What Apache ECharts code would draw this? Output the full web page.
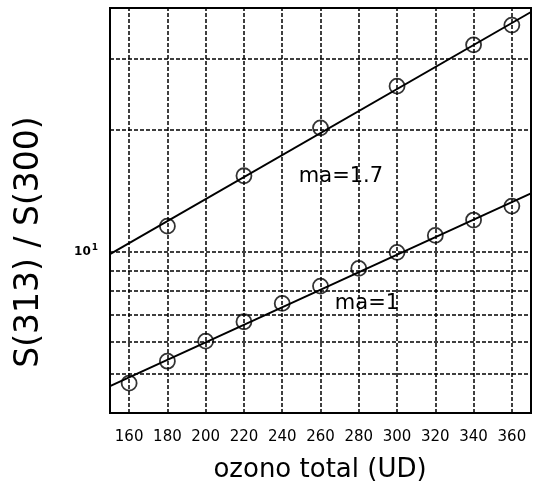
<!DOCTYPE html>
<html>
<head>
<meta charset="utf-8">
<script src="https://cdn.jsdelivr.net/npm/echarts@6/dist/echarts.min.js"></script>
<style>
html,body{margin:0;padding:0;background:#fff;}
#c{width:533px;height:495px;}
</style>
</head>
<body>
<div id="c"></div>
<script>
// ---- data ----
var xMa1 = [160, 180, 200, 220, 240, 260, 280, 300, 320, 340, 360];
var yMa1 = [4.74, 5.37, 6.02, 6.72, 7.46, 8.23, 9.10, 9.97, 10.98, 11.98, 12.97];
var xMa17 = [180, 220, 260, 300, 340, 360];
var yMa17 = [11.57, 15.41, 20.24, 25.65, 32.44, 36.29];
// straight fitted lines (end points)
var fitMa1X = [150, 370];
var fitMa1Y = [4.66, 13.94];
var fitMa17X = [150, 370];
var fitMa17Y = [9.87, 39.1];
// axes
var xTickLabels = [160, 180, 200, 220, 240, 260, 280, 300, 320, 340, 360];
var yGridValues = [5, 6, 7, 8, 9, 10, 20, 30];
var yLabelValue = 10;
var xName = 'ozono total (UD)';
var yName = 'S(313) / S(300)';
var label1 = 'ma=1';
var label17 = 'ma=1.7';

function zip(a, b) { return a.map(function (v, i) { return [v, b[i]]; }); }

var FONT = 'DejaVu Sans';
var gridStyle = { color: '#000', width: 1.5, type: [4, 2] };

var markLines = [];
xTickLabels.forEach(function (v) {
  markLines.push({ xAxis: v, lineStyle: gridStyle, label: { show: false } });
});
yGridValues.forEach(function (v) {
  var item = { yAxis: v, lineStyle: gridStyle, label: { show: false } };
  if (v === yLabelValue) {
    item.label = {
      show: true, position: 'start', distance: 12,
      formatter: '{b|10}{s|1}',
      rich: {
        b: { fontFamily: FONT, fontSize: 12, color: '#000', fontWeight: 'bold' },
        s: { fontFamily: FONT, fontSize: 9, color: '#000', verticalAlign: 'top', padding: [0, 0, 9, 1], fontWeight: 'bold' }
      }
    };
  }
  markLines.push(item);
});

var chart = echarts.init(document.getElementById('c'), null, { renderer: 'canvas' });
chart.setOption({
  backgroundColor: '#fff',
  animation: false,
  grid: { left: 110, right: 2, top: 8, bottom: 82, show: true, borderColor: '#000', borderWidth: 2, backgroundColor: 'transparent' },
  xAxis: {
    type: 'value', min: 150, max: 370,
    axisLine: { show: false },
    axisTick: { show: false },
    splitLine: { show: false },
    axisLabel: {
      customValues: xTickLabels,
      margin: 17, color: '#000', fontFamily: FONT, fontSize: 15
    }
  },
  yAxis: {
    type: 'log', min: 4, max: 40, logBase: 10,
    axisLine: { show: false },
    axisTick: { show: false },
    splitLine: { show: false },
    minorSplitLine: { show: false },
    axisLabel: { show: false }
  },
  graphic: [
    { type: 'text', x: 320, y: 470, style: { text: xName, font: '26px "' + FONT + '"', fill: '#000', textAlign: 'center', textVerticalAlign: 'middle' } },
    { type: 'text', x: 29, y: 242, rotation: Math.PI / 2, style: { text: yName, font: '33px "' + FONT + '"', fill: '#000', textAlign: 'center', textVerticalAlign: 'middle' } },
    { type: 'text', x: 341, y: 177, style: { text: label17, font: '21px "' + FONT + '"', fill: '#000', textAlign: 'center', textVerticalAlign: 'middle' } },
    { type: 'text', x: 367, y: 304, style: { text: label1, font: '21px "' + FONT + '"', fill: '#000', textAlign: 'center', textVerticalAlign: 'middle' } }
  ],
  series: [
    { type: 'line', data: [], silent: true, markLine: { symbol: 'none', silent: true, data: markLines } },
    { type: 'line', data: zip(fitMa1X, fitMa1Y), showSymbol: false, symbol: 'none', lineStyle: { color: '#000', width: 2 }, z: 3 },
    { type: 'line', data: zip(fitMa17X, fitMa17Y), showSymbol: false, symbol: 'none', lineStyle: { color: '#000', width: 2 }, z: 3 },
    { type: 'scatter', data: zip(xMa1, yMa1), symbol: 'circle', symbolSize: 15, itemStyle: { color: 'rgba(255,255,255,0)', borderColor: '#000', borderWidth: 1.8 }, z: 4 },
    { type: 'scatter', data: zip(xMa17, yMa17), symbol: 'circle', symbolSize: 15, itemStyle: { color: 'rgba(255,255,255,0)', borderColor: '#000', borderWidth: 1.8 }, z: 4 }
  ]
});
</script>
</body>
</html>
